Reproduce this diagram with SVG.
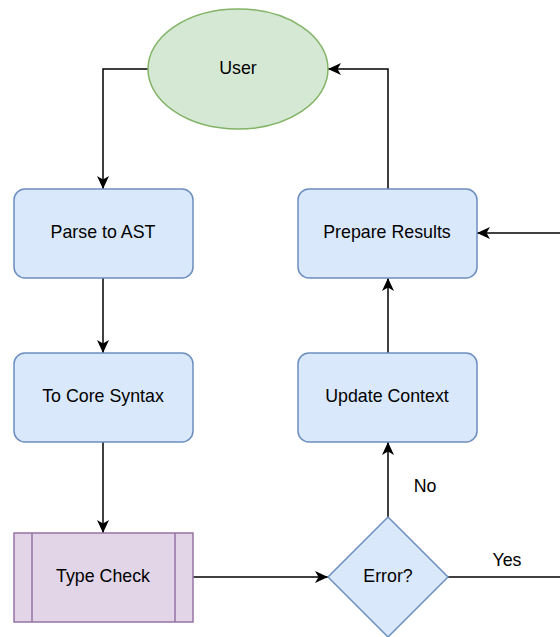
<svg xmlns="http://www.w3.org/2000/svg" width="560" height="637" viewBox="0 0 560 637">
  <style>
    .lbl { font-family: "Liberation Sans", Arial, sans-serif; font-size: 17.8px; fill: #000; text-anchor: middle; dominant-baseline: central; }
    .blue { fill: #dae8fc; stroke: #6c8ebf; stroke-width: 1.5; }
    .green { fill: #d5e8d4; stroke: #82b366; stroke-width: 1.5; }
    .purple { fill: #e1d5e7; stroke: #9673a6; stroke-width: 1.5; }
    .edge { fill: none; stroke: #000; stroke-width: 1.5; }
    .arrow { marker-end: url(#head); }
  </style>
  <defs>
    <marker id="head" viewBox="0 0 14 12" refX="13" refY="6" markerWidth="14" markerHeight="12" markerUnits="userSpaceOnUse" orient="auto">
      <path d="M0,0 L13,6 L0,12 L3.5,6 Z" fill="#000"/>
    </marker>
  </defs>
  <rect width="560" height="637" fill="#fff"/>

  <g id="connectors">
    <path class="edge arrow" d="M148,69 H103 V189"/>
    <path class="edge arrow" d="M103,278 V353"/>
    <path class="edge arrow" d="M103,442 V533"/>
    <path class="edge arrow" d="M193,577 H328"/>
    <path class="edge arrow" d="M388,517 V442"/>
    <path class="edge arrow" d="M388,353 V278"/>
    <path class="edge arrow" d="M388,189 V69 H328"/>
    <path class="edge" d="M448,577 H560"/>
    <path class="edge arrow" d="M560,233 H477"/>
    <text class="lbl" x="425" y="486">No</text>
    <text class="lbl" x="507" y="560">Yes</text>
  </g>

  <g id="user">
    <ellipse class="green" cx="238" cy="69" rx="90" ry="60"/>
    <text class="lbl" x="238" y="68">User</text>
  </g>
  <g id="parse">
    <rect class="blue" x="14" y="189" width="179" height="89" rx="11"/>
    <text class="lbl" x="103" y="232">Parse to AST</text>
  </g>
  <g id="core">
    <rect class="blue" x="14" y="353" width="179" height="89" rx="11"/>
    <text class="lbl" x="103" y="396">To Core Syntax</text>
  </g>
  <g id="typecheck">
    <rect class="purple" x="14" y="533" width="179" height="89"/>
    <line class="purple" x1="32" y1="533" x2="32" y2="622"/>
    <line class="purple" x1="175" y1="533" x2="175" y2="622"/>
    <text class="lbl" x="103" y="576">Type Check</text>
  </g>
  <g id="error">
    <polygon class="blue" points="388,517 448,577 388,637 328,577"/>
    <text class="lbl" x="388" y="576">Error?</text>
  </g>
  <g id="update">
    <rect class="blue" x="298" y="353" width="179" height="89" rx="11"/>
    <text class="lbl" x="387" y="396">Update Context</text>
  </g>
  <g id="prepare">
    <rect class="blue" x="298" y="189" width="179" height="89" rx="11"/>
    <text class="lbl" x="387" y="232">Prepare Results</text>
  </g>
</svg>
